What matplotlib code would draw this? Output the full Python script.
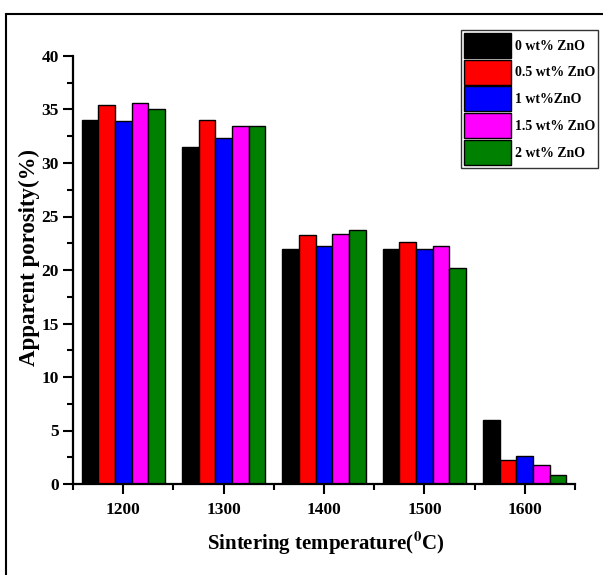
import numpy as np
import matplotlib.pyplot as plt
from matplotlib.patches import Rectangle
from matplotlib.ticker import MultipleLocator

plt.rcParams['font.family'] = 'Liberation Serif'
plt.rcParams['font.weight'] = 'bold'
plt.rcParams['mathtext.fontset'] = 'stix'

temps = [1200, 1300, 1400, 1500, 1600]
labels = ['0 wt% ZnO', '0.5 wt% ZnO', '1 wt%ZnO', '1.5 wt% ZnO', '2 wt% ZnO']
colors = ['black', 'red', 'blue', 'magenta', 'green']

zno_0 = [34.0, 31.5, 21.95, 22.0, 5.95]
zno_05 = [35.4, 34.0, 23.3, 22.6, 2.25]
zno_1 = [33.9, 32.3, 22.2, 22.0, 2.65]
zno_15 = [35.6, 33.5, 23.4, 22.25, 1.75]
zno_2 = [35.05, 33.5, 23.75, 20.15, 0.8]
series = [zno_0, zno_05, zno_1, zno_15, zno_2]

fig = plt.figure(figsize=(6.03, 5.75), dpi=100)
ax = fig.add_axes([73 / 603, 91 / 575, 502 / 603, 428 / 575])

# outer frame line
fig.patches.append(Rectangle((6 / 603, -0.05), 1.2, (575 - 14) / 575 + 0.05,
                             transform=fig.transFigure, fill=False,
                             edgecolor='black', linewidth=1.5))

w = 16.6
x = np.array(temps)
for i, (vals, c, lab) in enumerate(zip(series, colors, labels)):
    ax.bar(x + (i - 2) * w, vals, width=w, color=c, edgecolor='black',
           linewidth=1.0, label=lab)

ax.set_xlim(1150, 1650)
ax.set_ylim(0, 40)
ax.set_xticks(temps)
ax.xaxis.set_minor_locator(MultipleLocator(50))
ax.yaxis.set_major_locator(MultipleLocator(5))
ax.yaxis.set_minor_locator(MultipleLocator(2.5))

for s in ['top', 'right']:
    ax.spines[s].set_visible(False)
for s in ['left', 'bottom']:
    ax.spines[s].set_linewidth(1.6)

ax.tick_params(which='major', length=7, width=1.5, labelsize=12.5, direction='out')
ax.tick_params(which='minor', length=4, width=1.5, direction='out')
ax.tick_params(axis='x', pad=6)
ax.tick_params(axis='y', pad=3)

ax.set_xlabel('Sintering temperature($\\mathbf{^{0}}$C)', fontsize=15,
              fontweight='bold')
ax.xaxis.set_label_coords(0.504, -0.108)
ax.set_ylabel('Apparent porosity(%)', fontsize=16.5, fontweight='bold')
ax.yaxis.set_label_coords(-0.066, 0.53)

leg = ax.legend(loc='upper right', bbox_to_anchor=(598 / 603, (575 - 30) / 575),
                bbox_transform=fig.transFigure, fontsize=10, frameon=True,
                fancybox=False, edgecolor='black', handlelength=3.4,
                handleheight=2.4, labelspacing=0.12, handletextpad=0.3,
                borderpad=0.2, borderaxespad=0)
leg.get_frame().set_linewidth(1.0)

fig.savefig('out.png', dpi=100)
